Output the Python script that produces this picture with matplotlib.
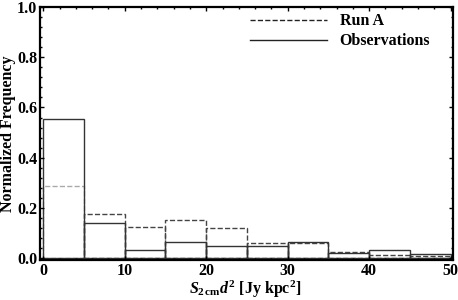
import numpy as np
import matplotlib
matplotlib.use("Agg")
import matplotlib.pyplot as plt
from matplotlib.ticker import MultipleLocator

plt.rcParams['font.family'] = ['Liberation Serif', 'DejaVu Serif']
plt.rcParams['font.weight'] = 'bold'
plt.rcParams['mathtext.fontset'] = 'custom'
plt.rcParams['mathtext.rm'] = 'Liberation Serif:bold'
plt.rcParams['mathtext.it'] = 'Liberation Serif:italic:bold'

# bin edges and normalized frequencies
bin_edges = [0, 5, 10, 15, 20, 25, 30, 35, 40, 45, 50]
run_a = [0.285, 0.177, 0.122, 0.152, 0.118, 0.060, 0.058, 0.025, 0.010, 0.008]
observations = [0.555, 0.140, 0.033, 0.063, 0.047, 0.047, 0.062, 0.018, 0.032, 0.016]

fig = plt.figure(figsize=(4.58, 3.0), dpi=100)
ax = fig.add_axes([0.0873, 0.1333, 0.902, 0.843])

edges = np.array(bin_edges)
centers = (edges[:-1] + edges[1:]) / 2
widths = np.diff(edges)

# Run A: dashed outline, first bin lighter
dash_colors = ['#aaaaaa'] + ['#444444'] * (len(run_a) - 1)
ax.bar(centers, run_a, width=widths, fill=False, edgecolor=dash_colors,
       linestyle='--', linewidth=1.0)
ax.bar(centers, observations, width=widths, fill=False, edgecolor='#333333',
       linestyle='-', linewidth=1.0)

# legend proxies
ax.plot([], [], color='#222222', ls='--', lw=1.0, label='Run A')
ax.plot([], [], color='#222222', ls='-', lw=1.0, label='Observations')
ax.legend(loc='upper right', frameon=False, fontsize=11.5, handlelength=4.8,
          handletextpad=0.8, labelspacing=0.25,
          borderaxespad=0.0, bbox_to_anchor=(0.96, 1.0))

ax.set_xlim(-0.4, 50.3)
ax.set_ylim(-0.008, 1.0)
ax.xaxis.set_major_locator(MultipleLocator(10))
ax.xaxis.set_minor_locator(MultipleLocator(2))
ax.yaxis.set_major_locator(MultipleLocator(0.2))
ax.yaxis.set_minor_locator(MultipleLocator(0.04))
ax.yaxis.set_major_formatter(plt.FuncFormatter(lambda v, p: f"{v:.1f}"))
ax.tick_params(which='both', direction='in', top=True, right=True,
               labelsize=11.5, width=1.0)
ax.tick_params(which='major', length=3, pad=2)
ax.tick_params(which='minor', length=1.5)
for s in ax.spines.values():
    s.set_linewidth(1.6)

ax.set_ylabel('Normalized Frequency', fontsize=11.5, fontweight='bold')
ax.yaxis.set_label_coords(-0.058, 0.5)
ax.set_xlabel(r'$S_{2\,\mathrm{cm}}d^2$ [Jy kpc$^2$]', fontsize=11.5,
              fontweight='bold')
ax.xaxis.set_label_coords(0.496, -0.075)

fig.savefig('out.png', dpi=100)
